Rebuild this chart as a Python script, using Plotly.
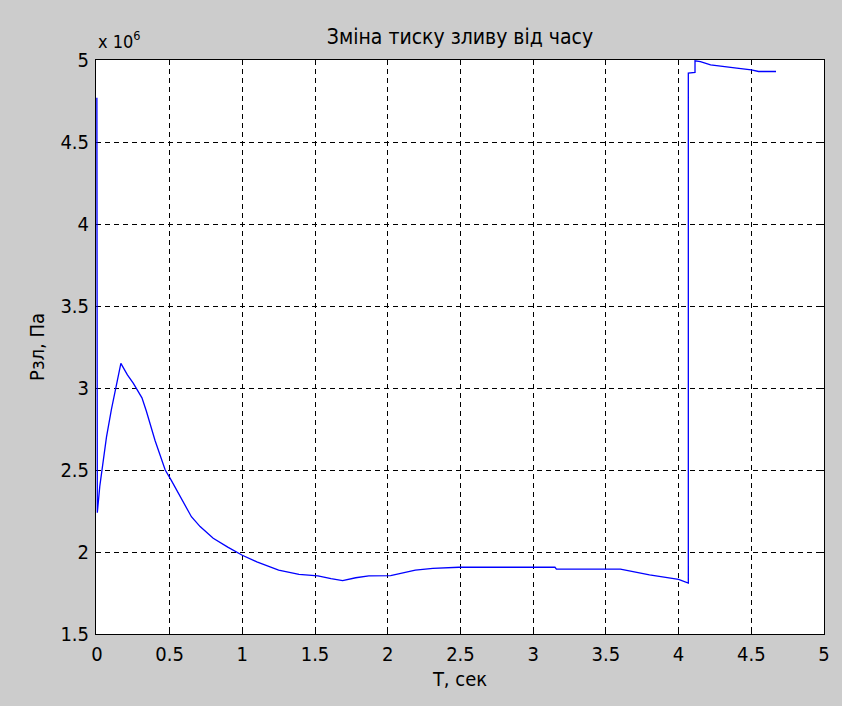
import plotly.graph_objects as go

# Drain pressure vs. time (time in s, pressure in Pa)
t_sec = [0.0, 0.003, 0.02, 0.043, 0.066, 0.10, 0.135, 0.165, 0.21, 0.25, 0.31,
         0.34, 0.40, 0.47, 0.51, 0.58, 0.65, 0.71, 0.80, 0.90, 1.00, 1.10, 1.25,
         1.39, 1.52, 1.61, 1.69, 1.78, 1.87, 2.02, 2.19, 2.31, 2.49, 3.15, 3.16,
         3.60, 3.80, 4.00, 4.067, 4.067, 4.10, 4.113, 4.113, 4.15, 4.22, 4.30,
         4.40, 4.50, 4.55, 4.67]
p_pa = [4.77e6, 2.24e6, 2.40e6, 2.56e6, 2.70e6, 2.87e6, 3.03e6, 3.15e6, 3.08e6,
        3.03e6, 2.94e6, 2.86e6, 2.68e6, 2.50e6, 2.44e6, 2.33e6, 2.215e6,
        2.155e6, 2.084e6, 2.03e6, 1.98e6, 1.94e6, 1.89e6, 1.864e6, 1.854e6,
        1.837e6, 1.825e6, 1.843e6, 1.854e6, 1.856e6, 1.89e6, 1.90e6, 1.907e6,
        1.907e6, 1.896e6, 1.896e6, 1.86e6, 1.833e6, 1.81e6, 4.92e6, 4.925e6,
        4.925e6, 4.995e6, 4.99e6, 4.97e6, 4.96e6, 4.95e6, 4.94e6, 4.93e6, 4.93e6]

x_ticks = [0, 0.5, 1, 1.5, 2, 2.5, 3, 3.5, 4, 4.5, 5]
x_tick_text = ["0", "0.5", "1", "1.5", "2", "2.5", "3", "3.5", "4", "4.5", "5"]
y_ticks = [1.5e6, 2e6, 2.5e6, 3e6, 3.5e6, 4e6, 4.5e6, 5e6]
y_tick_text = ["1.5", "2", "2.5", "3", "3.5", "4", "4.5", "5"]

FONT = "DejaVu Sans Condensed, DejaVu Sans, sans-serif"
FS = 20

fig = go.Figure()
fig.add_trace(go.Scatter(x=t_sec, y=p_pa, mode="lines",
                         line=dict(color="#0000ff", width=1.3),
                         showlegend=False, hoverinfo="x+y"))

axis_common = dict(
    showline=True, linecolor="black", linewidth=1, mirror="ticks",
    ticks="inside", ticklen=5, tickcolor="black", tickwidth=1,
    showgrid=True, gridcolor="black", gridwidth=1, griddash="5px,4px",
    zeroline=False, layer="below traces",
    tickfont=dict(family=FONT, size=FS, color="black"),
)

# the x range starts a hair below zero so the trace segment at t=0 stays visible
fig.update_xaxes(range=[-0.006, 5], tickmode="array", tickvals=x_ticks,
                 ticktext=x_tick_text, ticklabelstandoff=2,
                 title=dict(text="T, сек", standoff=6,
                            font=dict(family=FONT, size=FS, color="black")),
                 **axis_common)
fig.update_yaxes(range=[1.5e6, 5e6], tickmode="array", tickvals=y_ticks,
                 ticktext=y_tick_text, ticklabelstandoff=2,
                 title=dict(text="Рзл, Па", standoff=10,
                            font=dict(family=FONT, size=FS, color="black")),
                 **axis_common)

fig.update_layout(
    width=842, height=706,
    paper_bgcolor="#cccccc", plot_bgcolor="white",
    margin=dict(l=96, r=16, t=60, b=72),
    title=dict(text="Зміна тиску зливу від часу", xref="paper", x=0.5,
               xanchor="center", y=1 - 37 / 706, yanchor="middle",
               font=dict(family=FONT, size=FS + 1, color="black")),
    font=dict(family=FONT, color="black"),
)

# exponent marker above the y axis
fig.add_annotation(text="x 10<sup>6</sup>", xref="paper", yref="paper",
                   x=0.0, y=1.0, xanchor="left", yanchor="bottom", yshift=6,
                   showarrow=False,
                   font=dict(family=FONT, size=FS - 2, color="black"))

fig.write_html("out.html")
